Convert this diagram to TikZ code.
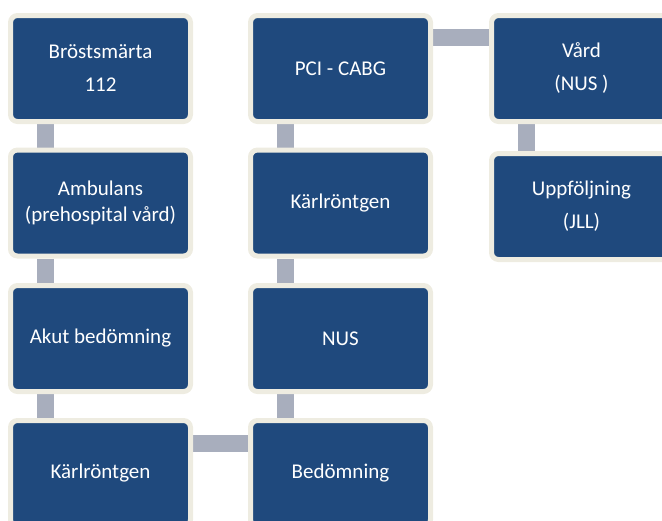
\documentclass[tikz,border=0pt]{standalone}
\usepackage{fontspec}
\setmainfont{Carlito}
\usetikzlibrary{backgrounds}
\definecolor{boxblue}{RGB}{31,73,125}
\definecolor{boxrim}{RGB}{238,236,225}
\definecolor{linkgray}{RGB}{168,174,189}
\tikzset{
  flowbox/.style={rounded corners=7pt, fill=boxblue, draw=boxrim, line width=5pt,
    minimum width=180pt, minimum height=106pt, inner sep=0pt, text=white,
    align=center, font=\fontsize{21}{26}\selectfont},
  widebox/.style={flowbox, font=\fontsize{21}{33}\selectfont},
  link/.style={draw=linkgray, line width=17pt}
}
\begin{document}
\begin{tikzpicture}[x=1pt,y=-1pt]
\useasboundingbox (0,0) rectangle (662,520);
\clip (0,0) rectangle (662,520);
\node[widebox] (a) at (100.5,68.5) {Bröstsmärta\\112};
\node[flowbox] (b) at (100.5,203) {Ambulans\\(prehospital vård)};
\node[flowbox] (c) at (100.5,338.5) {Akut bedömning};
\node[flowbox] (d) at (100.5,473.5) {Kärlröntgen};
\node[flowbox] (e) at (340.5,473.5) {Bedömning};
\node[flowbox] (f) at (340.5,338.5) {NUS};
\node[flowbox] (g) at (340.5,203) {Kärlröntgen};
\node[flowbox] (h) at (340.5,68.5) {PCI - CABG};
\node[widebox] (i) at (581.5,68.5) {Vård\\(NUS )};
\node[widebox] (j) at (581.5,206.5) {Uppföljning\\(JLL)};
\begin{pgfonlayer}{background}
\draw[link] ([xshift=37pt]a.south west) -- ([xshift=37pt]b.north west);
\draw[link] ([xshift=37pt]b.south west) -- ([xshift=37pt]c.north west);
\draw[link] ([xshift=37pt]c.south west) -- ([xshift=37pt]d.north west);
\draw[link] ([yshift=-25.5pt]d.north east) -- ([yshift=-25.5pt]e.north west);
\draw[link] ([xshift=37pt]e.north west) -- ([xshift=37pt]f.south west);
\draw[link] ([xshift=37pt]f.north west) -- ([xshift=37pt]g.south west);
\draw[link] ([xshift=37pt]g.north west) -- ([xshift=37pt]h.south west);
\draw[link] ([yshift=-24.5pt]h.north east) -- ([yshift=-24.5pt]i.north west);
\draw[link] ([xshift=37.5pt]i.south west) -- ([xshift=37.5pt]j.north west);
\end{pgfonlayer}
\end{tikzpicture}
\end{document}
